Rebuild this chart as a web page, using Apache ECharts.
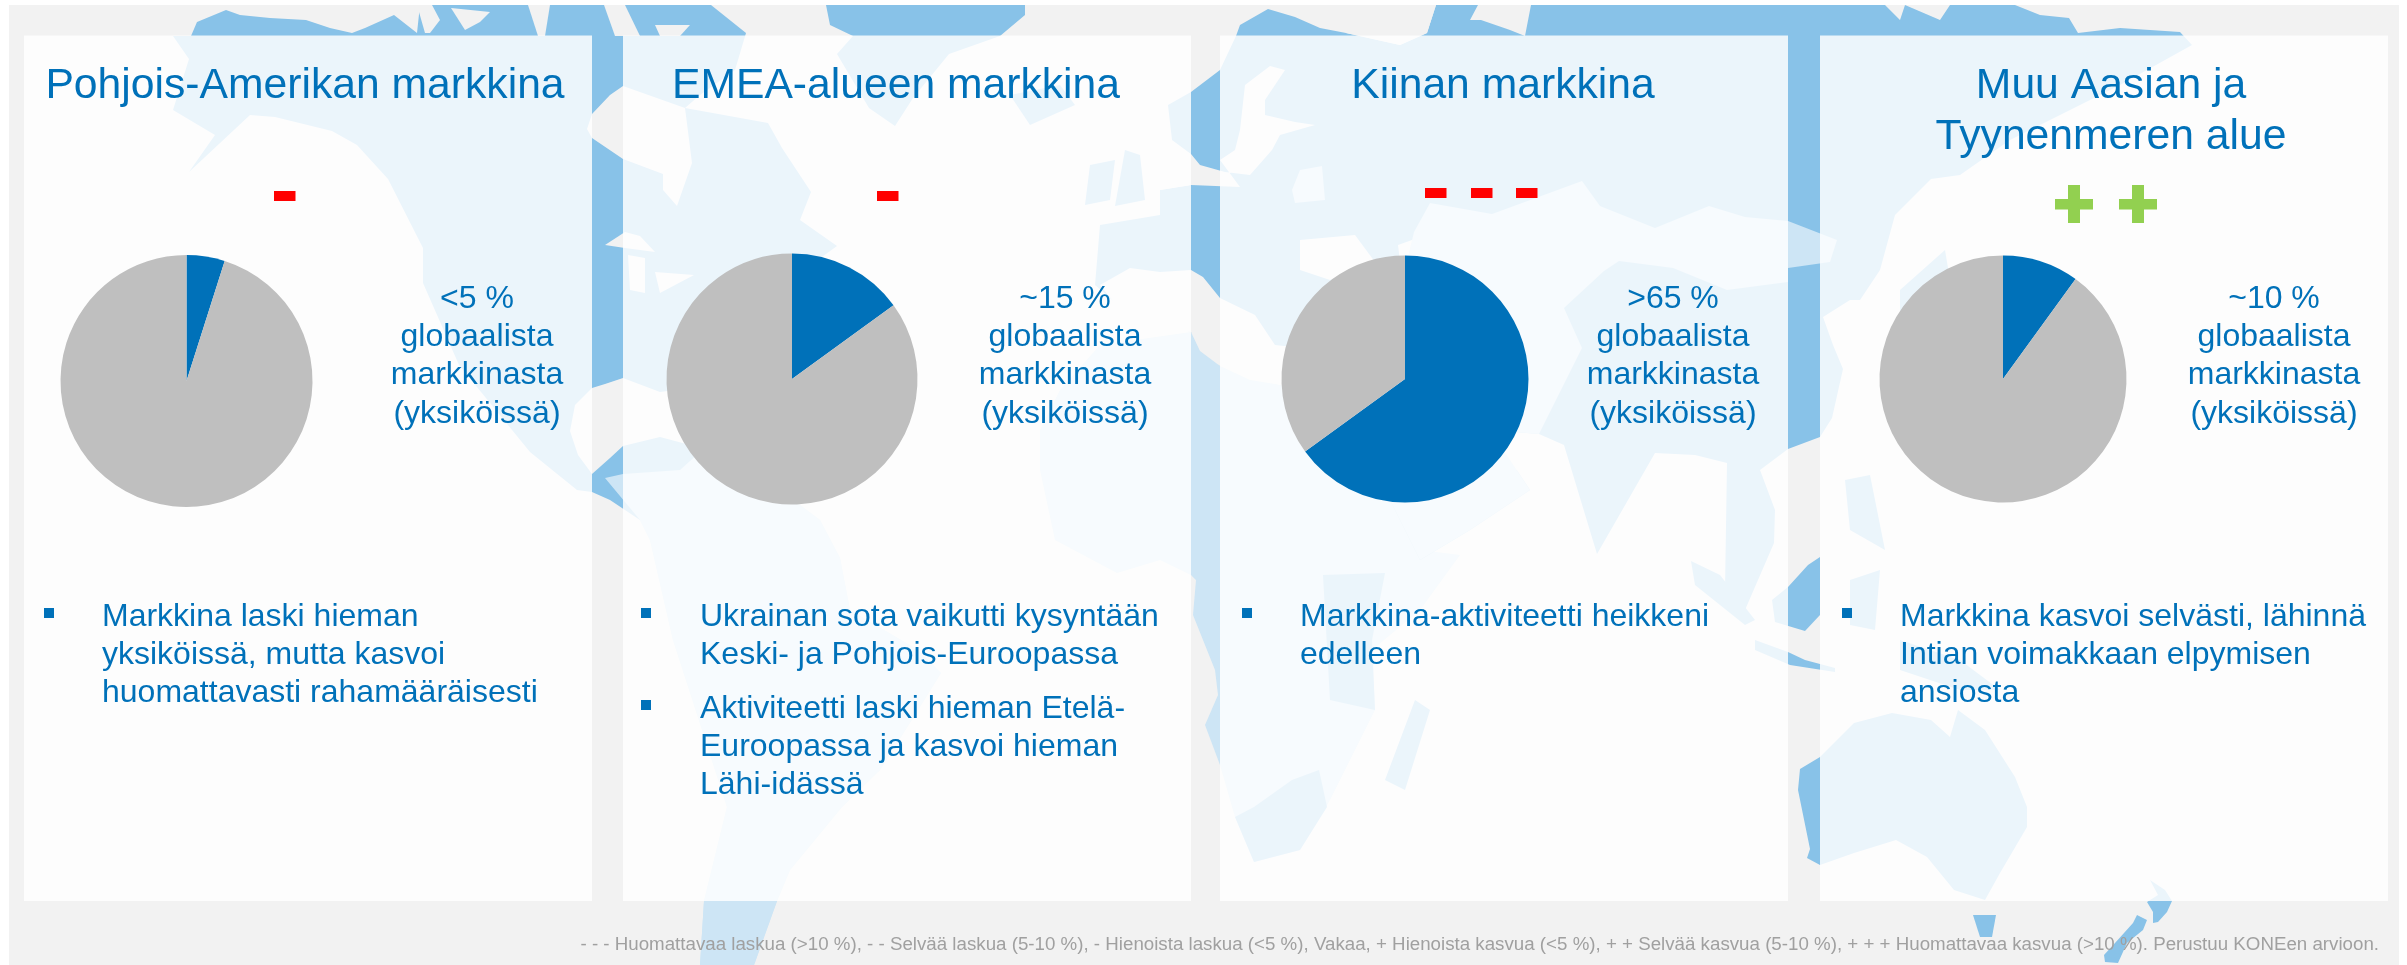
<!DOCTYPE html>
<html><head><meta charset="utf-8">
<style>html,body{margin:0;padding:0;background:#fff}#c{width:2407px;height:965px}</style>
<script src="https://cdn.jsdelivr.net/npm/echarts@6/dist/echarts.min.js"></script>
</head><body><div id="c"></div>
<script>
// ---- data ----
const regions = ['Pohjois-Amerikan markkina','EMEA-alueen markkina','Kiinan markkina','Muu Aasian ja|Tyynenmeren alue'];
const shareValues = [4.9, 15, 65, 10];
const shareLabels = ['<5 %','~15 %','>65 %','~10 %'];
const shareCaption = ['globaalista','markkinasta','(yksiköissä)'];
const trendDashes = [1,1,3,0];
const trendPluses = [0,0,0,2];
const bullets = [
 [['Markkina laski hieman','yksiköissä, mutta kasvoi','huomattavasti rahamääräisesti']],
 [['Ukrainan sota vaikutti kysyntään','Keski- ja Pohjois-Euroopassa'],['Aktiviteetti laski hieman Etelä-','Euroopassa ja kasvoi hieman','Lähi-idässä']],
 [['Markkina-aktiviteetti heikkeni','edelleen']],
 [['Markkina kasvoi selvästi, lähinnä','Intian voimakkaan elpymisen','ansiosta']]
];
const footnote = '- - - Huomattavaa laskua (>10 %), - - Selvää laskua (5-10 %), - Hienoista laskua (<5 %), Vakaa, + Hienoista kasvua (<5 %), + + Selvää kasvua (5-10 %), + + + Huomattavaa kasvua (>10 %). Perustuu KONEen arvioon.';

// ---- layout / style ----
const BLUE='#0071B9', GREY='#BFBFBF', RED='#FF0000', GREEN='#92D050', DARK='#88C2E8', LIGHT='#CDE5F5', SEA='#F2F2F2';
const panels=[[24,592],[623,1191],[1220,1788],[1820,2388]];
const pieC=[[186.5,381,126],[792,379,125.5],[1405,379,123.5],[2003,379,123.5]];
const sideX=[477,1065,1673,2274];
const titleX=[305,896,1503,2111];
const bulletX=[44,641,1242,1842], bodyX=[102,700,1300,1900];
const dashX=[[274],[877],[1425,1471,1516]], dashY=[191,191,188];
const plusX=[2074,2138];
const bodyStart=[[625],[625,717],[625],[625]];

// background map (decorative sketch, not data)
const mapDark=[
 // North America
 [[173,36],[191,36],[197,22],[226,10],[240,15],[270,18],[306,20],[330,28],[352,33],[365,28],[394,15],[417,33],[420,5],[711,5],[746,33],[735,70],[700,95],[685,108],[768,123],[782,148],[811,192],[800,220],[837,246],[790,280],[740,340],[720,390],[735,450],[700,470],[690,500],[640,520],[610,500],[592,492],[577,490],[530,452],[459,365],[423,283],[423,248],[388,179],[357,145],[332,131],[275,117],[250,115],[189,172],[215,135],[173,110],[189,59]],
 // Greenland
 [[826,5],[1025,5],[1025,15],[1000,36],[949,54],[913,98],[895,126],[869,108],[837,54],[853,36],[830,25]],
 // Iceland, Britain
 [[1010,95],[1060,85],[1075,105],[1030,125]],
 [[1090,165],[1115,160],[1110,200],[1085,205]],
 [[1125,150],[1140,155],[1145,200],[1115,206]],
 // Eurasia
 [[1168,105],[1191,92],[1220,70],[1236,36],[1240,25],[1268,9],[1295,17],[1320,28],[1346,33],[1400,45],[1427,33],[1436,5],[1478,5],[1470,20],[1481,20],[1510,30],[1525,36],[1531,5],[1885,5],[1900,20],[1905,5],[1940,20],[1950,5],[2015,5],[2040,15],[2069,18],[2078,33],[2120,28],[2180,32],[2192,45],[2120,85],[2010,140],[1960,175],[1931,179],[1895,215],[1880,270],[1860,300],[1850,300],[1823,317],[1833,345],[1843,369],[1832,418],[1820,437],[1788,449],[1760,470],[1775,510],[1774,543],[1745,610],[1725,590],[1727,463],[1695,455],[1655,453],[1597,554],[1564,445],[1539,434],[1490,430],[1530,490],[1470,530],[1420,560],[1390,500],[1360,430],[1355,395],[1320,365],[1280,350],[1220,366],[1191,332],[1130,315],[1095,285],[1100,225],[1160,215],[1160,190],[1191,185],[1191,154],[1172,140]],
 // islands and Australia
 [[1772,600],[1788,587],[1808,565],[1820,557],[1820,615],[1805,631],[1775,622]],
 [[1691,561],[1720,575],[1755,620],[1745,625],[1695,585]],
 [[1755,640],[1788,652],[1805,660],[1835,668],[1835,672],[1790,665],[1755,650]],
 [[1845,480],[1870,475],[1885,550],[1850,530]],
 [[1850,580],[1880,570],[1875,630],[1850,625]],
 [[1900,290],[1945,250],[1950,280],[1900,320]],
 [[1900,640],[1960,660],[2000,690],[1960,690],[1900,670]],
 [[1820,757],[1854,723],[1892,713],[1931,720],[1950,737],[1958,710],[1985,730],[2015,777],[2027,807],[2027,827],[2000,873],[1985,900],[1954,890],[1927,857],[1896,840],[1854,853],[1820,865],[1807,858],[1810,849],[1798,790],[1800,769]],
 [[1973,915],[1996,915],[1992,937],[1980,937]],
 [[2150,880],[2165,890],[2172,901],[2167,912],[2158,922],[2153,923],[2153,912],[2147,902],[2158,895]],
 [[2137,915],[2147,920],[2143,930],[2127,943],[2118,963],[2105,962],[2104,955],[2115,943],[2133,923]],
 // southern and eastern Africa, Madagascar
 [[1235,817],[1254,862],[1300,850],[1327,807],[1319,770],[1292,780],[1254,807]],
 [[1323,575],[1385,573],[1372,640],[1375,710],[1330,700]],
 [[1415,700],[1430,710],[1405,790],[1385,780]]
];
const mapLight=[
 // South America
 [[605,478],[623,474],[680,470],[700,452],[760,475],[820,520],[840,558],[850,610],[918,650],[941,673],[918,710],[880,770],[842,807],[790,870],[777,901],[754,965],[700,965],[704,901],[727,807],[673,640],[650,540],[640,520]],
 // Africa
 [[1191,332],[1220,366],[1280,385],[1340,395],[1360,430],[1395,505],[1420,550],[1460,555],[1420,610],[1372,650],[1375,710],[1330,800],[1300,850],[1254,862],[1235,817],[1220,765],[1205,725],[1218,695],[1215,670],[1193,615],[1196,580],[1191,575],[1160,560],[1117,573],[1055,540],[1040,470],[1040,430],[1060,390],[1100,345]]
];
// painted after the dark land: Near East, Central Asia, Mongolia; Belarus
const mapLightOver=[
 [[1320,365],[1345,305],[1400,290],[1414,232],[1430,203],[1492,214],[1582,181],[1600,206],[1655,228],[1709,206],[1745,217],[1788,221],[1837,240],[1830,262],[1788,268],[1788,282],[1727,290],[1673,268],[1619,261],[1604,271],[1564,308],[1582,348],[1539,434],[1490,430],[1530,490],[1470,530],[1420,560],[1390,500],[1360,430],[1355,395]],
 [[1292,190],[1300,170],[1322,166],[1325,200],[1295,203]]
];
const mapSea=[
 [[417,5],[432,5],[440,20],[430,33],[425,33]],[[451,8],[490,12],[480,22],[465,30]],[[528,5],[550,5],[545,36],[538,36]],
 [[604,5],[625,5],[640,36],[615,36]],[[655,25],[690,25],[680,36],[660,36]],
 // Hudson Bay
 [[587,129],[592,114],[610,95],[623,86],[685,108],[692,163],[677,206],[663,190],[663,174],[623,159],[592,138]],
 // Great Lakes
 [[605,245],[625,232],[640,236],[655,252],[625,248]],[[628,255],[645,258],[645,293],[630,290]],[[655,272],[694,275],[660,293]],
 // Gulf of Mexico and Caribbean
 [[570,431],[575,405],[592,388],[605,384],[623,378],[660,392],[690,388],[710,400],[716,445],[690,445],[660,437],[623,446],[610,458],[592,474],[578,455]],
 // Baltic and North Sea
 [[1191,154],[1200,165],[1225,172],[1250,175],[1272,150],[1280,135],[1315,125],[1295,122],[1265,115],[1265,100],[1285,70],[1270,66],[1245,85],[1240,130],[1235,150],[1220,160],[1240,187],[1191,185],[1160,190],[1150,170],[1160,150]],
 // Mediterranean
 [[1100,285],[1130,268],[1160,272],[1191,270],[1203,277],[1220,298],[1255,315],[1275,345],[1340,352],[1345,392],[1300,388],[1250,380],[1220,366],[1200,351],[1191,332],[1130,322]],
 [[1300,240],[1355,235],[1375,262],[1330,280],[1300,270]],
 [[1398,245],[1412,240],[1420,300],[1405,300]],
 [[1355,395],[1370,400],[1430,520],[1418,530]],
 [[1470,420],[1490,425],[1530,470],[1510,470]],
 [[1346,5],[1436,5],[1427,33],[1400,45],[1346,33]]
];

// ---- graphic ----
const g=[];
const rect=(x,y,w,h,fill,op)=>g.push({type:'rect',silent:true,shape:{x,y,width:w,height:h},style:{fill,opacity:op==null?1:op}});
const poly=(points,fill)=>g.push({type:'polygon',silent:true,shape:{points},style:{fill}});
const text=(t,x,base,size,color,align)=>g.push({type:'text',silent:true,x,y:base-size*0.26,style:{text:t,fontFamily:'"Liberation Sans",Arial,sans-serif',fontSize:size,fill:color,textAlign:align,verticalAlign:'middle'}});

rect(9,5,2390,960,SEA);
mapLight.forEach(p=>poly(p,LIGHT));
mapDark.forEach(p=>poly(p,DARK));
mapSea.forEach(p=>poly(p,SEA));
mapLight.slice(0,1).forEach(p=>poly(p,LIGHT));
mapLightOver.forEach(p=>poly(p,LIGHT));
panels.forEach(p=>rect(p[0],35.5,p[1]-p[0],865.5,'#fff',0.83));

regions.forEach((r,i)=>{
  r.split('|').forEach((line,k)=>text(line,titleX[i],97+k*51,42.67,BLUE,'center'));
  [shareLabels[i]].concat(shareCaption).forEach((line,k)=>text(line,sideX[i],307+k*38.4,32,BLUE,'center'));
  bullets[i].forEach((para,pi)=>{
    const b=bodyStart[i][pi];
    rect(bulletX[i],b-17,10,10,BLUE);
    para.forEach((line,k)=>text(line,bodyX[i],b+k*38.4,32,BLUE,'left'));
  });
  for(let d=0;d<trendDashes[i];d++) rect(dashX[i][d],dashY[i],21.5,10,RED);
  for(let d=0;d<trendPluses[i];d++){
    const cx=plusX[d];
    rect(cx-19,199,38,10.5,GREEN);
    rect(cx-6,185,12,38,GREEN);
  }
});
text(footnote,2379,950,18.73,'#A0A0A0','right');

const series=shareValues.map((v,i)=>({
  type:'pie',silent:true,animation:false,clockwise:true,startAngle:90,
  center:[pieC[i][0],pieC[i][1]],radius:[0,pieC[i][2]],
  label:{show:false},labelLine:{show:false},
  data:[{value:v,name:regions[i].replace('|',' '),itemStyle:{color:BLUE}},{value:100-v,name:'Muu maailma',itemStyle:{color:GREY}}]
}));

const chart=echarts.init(document.getElementById('c'),null,{renderer:'canvas',width:2407,height:965});
chart.setOption({animation:false,backgroundColor:'#fff',graphic:{elements:g},series});
</script></body></html>
